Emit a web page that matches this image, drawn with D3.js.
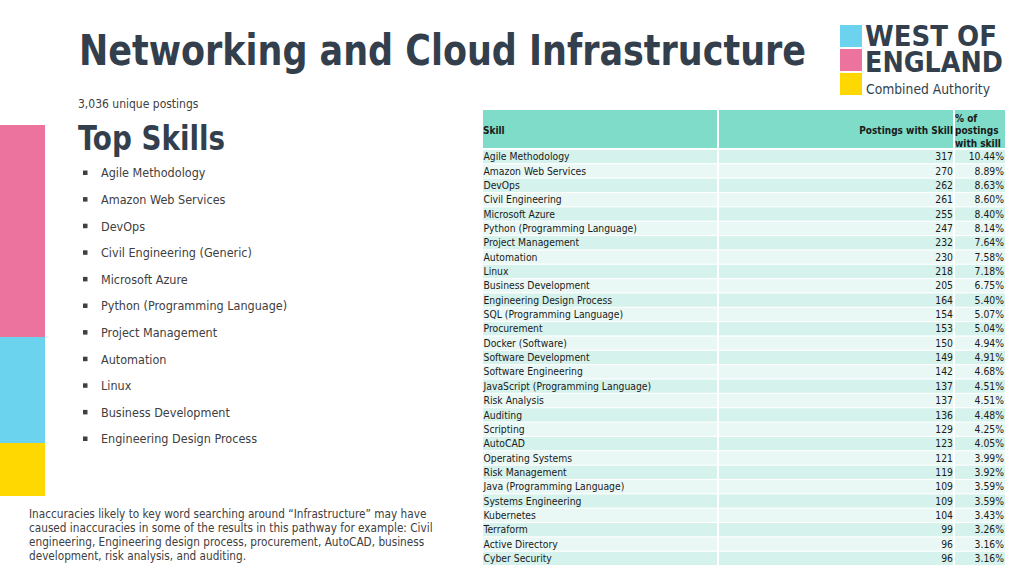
<!DOCTYPE html>
<html>
<head>
<meta charset="utf-8">
<script src="https://cdn.jsdelivr.net/npm/d3@7"></script>
<style>
  html, body { margin: 0; padding: 0; background: #ffffff; }
  svg { display: block; }
  text { font-family: "DejaVu Sans Condensed", "DejaVu Sans", sans-serif; font-stretch: condensed; }
</style>
</head>
<body>
<svg id="chart" width="1024" height="576"></svg>
<script>
const titleText = "Networking and Cloud Infrastructure";
const subtitleText = "3,036 unique postings";
const topSkillsHeading = "Top Skills";
const topSkills = [
  "Agile Methodology", "Amazon Web Services", "DevOps", "Civil Engineering (Generic)",
  "Microsoft Azure", "Python (Programming Language)", "Project Management", "Automation",
  "Linux", "Business Development", "Engineering Design Process"
];
const noteLines = [
  "Inaccuracies likely to key word searching around \u201cInfrastructure\u201d may have",
  "caused inaccuracies in some of the results in this pathway for example: Civil",
  "engineering, Engineering design process, procurement, AutoCAD, business",
  "development, risk analysis, and auditing."
];
const headers = ["Skill", "Postings with Skill", ["% of", "postings", "with skill"]];
const skills = [
  "Agile Methodology", "Amazon Web Services", "DevOps", "Civil Engineering", "Microsoft Azure",
  "Python (Programming Language)", "Project Management", "Automation", "Linux",
  "Business Development", "Engineering Design Process", "SQL (Programming Language)",
  "Procurement", "Docker (Software)", "Software Development", "Software Engineering",
  "JavaScript (Programming Language)", "Risk Analysis", "Auditing", "Scripting", "AutoCAD",
  "Operating Systems", "Risk Management", "Java (Programming Language)", "Systems Engineering",
  "Kubernetes", "Terraform", "Active Directory", "Cyber Security"
];
const postings = [317, 270, 262, 261, 255, 247, 232, 230, 218, 205, 164, 154, 153, 150, 149,
  142, 137, 137, 136, 129, 123, 121, 119, 109, 109, 104, 99, 96, 96];
const percents = [10.44, 8.89, 8.63, 8.60, 8.40, 8.14, 7.64, 7.58, 7.18, 6.75, 5.40, 5.07, 5.04,
  4.94, 4.91, 4.68, 4.51, 4.51, 4.48, 4.25, 4.05, 3.99, 3.92, 3.59, 3.59, 3.43, 3.26, 3.16, 3.16];
const sideBlocks = ["pink", "blue", "yellow"];
const logoBlocks = ["blue", "pink", "yellow"];
const logoLines = ["WEST OF", "ENGLAND", "Combined Authority"];

const palette = { pink: "#ec739d", blue: "#6cd3ef", yellow: "#fed800" };
const dark = "#333f4c";
const svg = d3.select("#chart");

// Left colour blocks
const sideY = d3.scaleOrdinal().domain(sideBlocks).range([[125, 337], [337, 443], [443, 496]]);
svg.selectAll("rect.side").data(sideBlocks).join("rect")
  .attr("class", "side")
  .attr("x", 0).attr("width", 45)
  .attr("y", d => sideY(d)[0]).attr("height", d => sideY(d)[1] - sideY(d)[0])
  .attr("fill", d => palette[d]);

// Title
svg.append("text").attr("x", 79).attr("y", 65)
  .attr("font-size", 42).attr("font-weight", "bold").attr("fill", dark)
  .attr("textLength", 727).attr("lengthAdjust", "spacingAndGlyphs")
  .text(titleText);

svg.append("text").attr("x", 78).attr("y", 108)
  .attr("font-size", 12).attr("fill", "#404040")
  .text(subtitleText);

svg.append("text").attr("x", 78).attr("y", 150)
  .attr("font-size", 33).attr("font-weight", "bold").attr("fill", dark)
  .attr("textLength", 147).attr("lengthAdjust", "spacingAndGlyphs")
  .text(topSkillsHeading);

// Bullet list
const bulletY = d3.scalePoint().domain(d3.range(topSkills.length)).range([173, 439]);
const bl = svg.selectAll("g.bullet").data(topSkills).join("g").attr("class", "bullet")
  .attr("transform", (d, i) => `translate(0,${bulletY(i)})`);
bl.append("rect").attr("x", 83).attr("y", -2.5).attr("width", 4.5).attr("height", 4.5).attr("fill", "#404040");
bl.append("text").attr("x", 101).attr("dy", "0.35em")
  .attr("font-size", 12.5).attr("fill", "#404040").text(d => d);

// Note
svg.selectAll("text.note").data(noteLines).join("text").attr("class", "note")
  .attr("x", 29).attr("y", (d, i) => 514 + i * 14).attr("dy", "0.35em")
  .attr("font-size", 11.7).attr("fill", "#404040").text(d => d);

// Logo
const logoY = d3.scaleBand().domain(logoBlocks).range([25, 95]).paddingInner(0.08);
svg.selectAll("rect.logo").data(logoBlocks).join("rect").attr("class", "logo")
  .attr("x", 840).attr("width", 22)
  .attr("y", d => logoY(d)).attr("height", logoY.bandwidth())
  .attr("fill", d => palette[d]);
svg.append("text").attr("x", 865).attr("y", 46)
  .attr("font-size", 28).attr("font-weight", "bold").attr("fill", dark)
  .attr("textLength", 132).attr("lengthAdjust", "spacingAndGlyphs").text(logoLines[0]);
svg.append("text").attr("x", 865).attr("y", 71.5)
  .attr("font-size", 28).attr("font-weight", "bold").attr("fill", dark)
  .attr("textLength", 138).attr("lengthAdjust", "spacingAndGlyphs").text(logoLines[1]);
svg.append("text").attr("x", 866).attr("y", 94)
  .attr("font-size", 14.5).attr("fill", dark)
  .attr("textLength", 124).attr("lengthAdjust", "spacingAndGlyphs").text(logoLines[2]);

// Table
const cols = [[483, 717], [719, 953], [955, 1005]];
const header = svg.append("g");
header.selectAll("rect").data(cols).join("rect")
  .attr("x", d => d[0]).attr("width", d => d[1] - d[0])
  .attr("y", 110).attr("height", 38).attr("fill", "#7edcc9");
header.append("text").attr("x", 483).attr("y", 130).attr("dy", "0.35em")
  .attr("font-size", 10).attr("font-weight", "bold").attr("fill", "#1a1a1a").text(headers[0]);
header.append("text").attr("x", 953).attr("y", 130).attr("dy", "0.35em").attr("text-anchor", "end")
  .attr("font-size", 10).attr("font-weight", "bold").attr("fill", "#1a1a1a").text(headers[1]);
header.selectAll("text.h3").data(headers[2]).join("text").attr("class", "h3")
  .attr("x", 955).attr("y", (d, i) => 118 + i * 12.5).attr("dy", "0.35em")
  .attr("font-size", 10).attr("font-weight", "bold").attr("fill", "#1a1a1a").text(d => d);

const rowY = d3.scaleBand().domain(d3.range(skills.length)).range([150, 565]).paddingInner(0.08);
const rows = svg.selectAll("g.row").data(skills).join("g").attr("class", "row")
  .attr("transform", (d, i) => `translate(0,${rowY(i)})`);
rows.each(function(d, i) {
  const g = d3.select(this);
  g.selectAll("rect").data(cols).join("rect")
    .attr("x", c => c[0]).attr("width", c => c[1] - c[0])
    .attr("y", 0).attr("height", rowY.bandwidth())
    .attr("fill", i % 2 === 0 ? "#d5f2ec" : "#eaf8f5");
});
const mid = rowY.bandwidth() / 2;
rows.append("text").attr("x", 483.5).attr("y", mid).attr("dy", "0.35em")
  .attr("font-size", 10.3).attr("fill", "#1a1a1a").text(d => d);
rows.append("text").attr("x", 953).attr("y", mid).attr("dy", "0.35em").attr("text-anchor", "end")
  .attr("font-size", 10.3).attr("fill", "#1a1a1a").text((d, i) => postings[i]);
rows.append("text").attr("x", 1004).attr("y", mid).attr("dy", "0.35em").attr("text-anchor", "end")
  .attr("font-size", 10.3).attr("fill", "#1a1a1a").text((d, i) => d3.format(".2f")(percents[i]) + "%");
</script>
</body>
</html>
